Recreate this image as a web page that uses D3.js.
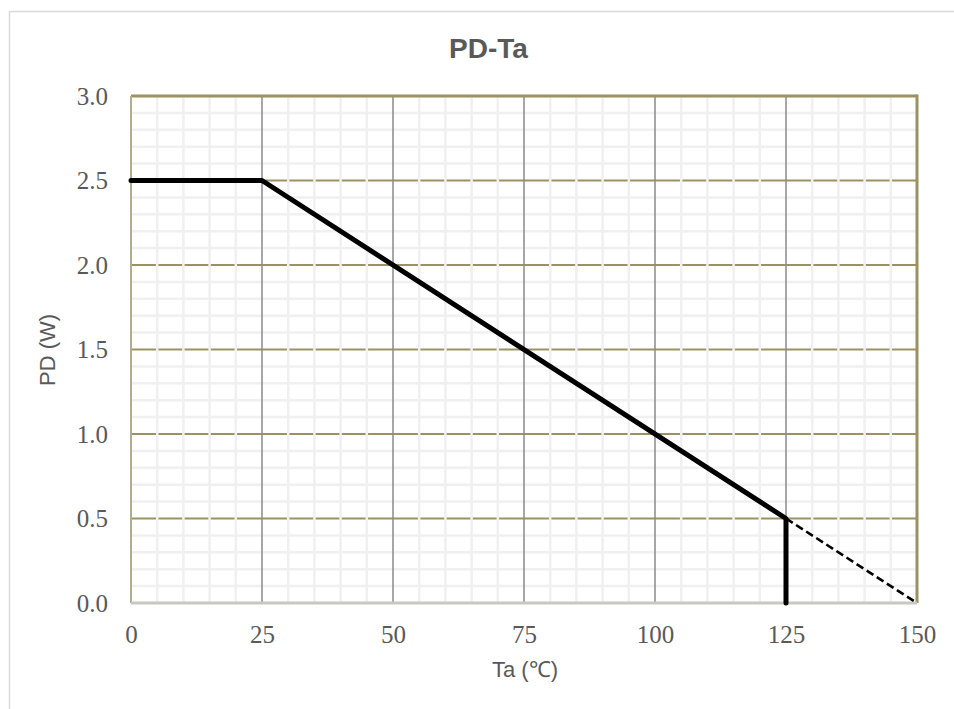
<!DOCTYPE html>
<html><head><meta charset="utf-8">
<script src="https://cdn.jsdelivr.net/npm/d3@7"></script>
<style>body{margin:0;background:#fff}svg{display:block}</style>
</head><body>
<svg id="c" width="954" height="709"></svg>
<script>
const title = "PD-Ta";
const xLabel = "Ta (℃)";
const yLabel = "PD (W)";
const xTicks = [0, 25, 50, 75, 100, 125, 150];
const yTicks = [0.0, 0.5, 1.0, 1.5, 2.0, 2.5, 3.0];
const curveTa = [0, 25, 125, 125];
const curvePD = [2.5, 2.5, 0.5, 0];
const dashTa = [125, 150];
const dashPD = [0.5, 0];

const svg = d3.select("#c");
const L = 131, R = 917, T = 96, B = 603;
const x = d3.scaleLinear().domain([0, 150]).range([L, R]);
const y = d3.scaleLinear().domain([0, 3]).range([B, T]);

// outer border
svg.append("rect").attr("x", 9.5).attr("y", 11.5).attr("width", 1000).attr("height", 1000)
  .attr("fill", "#fff").attr("stroke", "#d9d9d9").attr("stroke-width", 1.5);

const g = svg.append("g");
const xMinor = d3.range(0, 151, 5).filter(v => v % 25 !== 0);
const yMinor = d3.range(0, 31, 1).map(v => v / 10).filter(v => Math.round(v * 10) % 5 !== 0);

g.selectAll(".ymin").data(yMinor).join("line")
  .attr("x1", L).attr("x2", R).attr("y1", d => y(d)).attr("y2", d => y(d))
  .attr("stroke", "#f0f0f0").attr("stroke-width", 2.5);
g.selectAll(".ymaj").data(yTicks.slice(1, -1)).join("line")
  .attr("x1", L).attr("x2", R).attr("y1", d => y(d)).attr("y2", d => y(d))
  .attr("stroke", "#9b9162").attr("stroke-width", 2);
g.selectAll(".xmin").data(xMinor).join("line")
  .attr("y1", T).attr("y2", B).attr("x1", d => x(d)).attr("x2", d => x(d))
  .attr("stroke", "#f0f0f0").attr("stroke-width", 2.5);
g.selectAll(".xmaj").data(xTicks.slice(1, -1)).join("line")
  .attr("y1", T).attr("y2", B).attr("x1", d => x(d)).attr("x2", d => x(d))
  .attr("stroke", "#8a8a8a").attr("stroke-width", 1.5);

// plot frame
g.append("line").attr("x1", L).attr("x2", R).attr("y1", T).attr("y2", T).attr("stroke", "#9b9162").attr("stroke-width", 3);
g.append("line").attr("x1", R).attr("x2", R).attr("y1", T - 1.5).attr("y2", B).attr("stroke", "#9b9162").attr("stroke-width", 3);
g.append("line").attr("x1", L).attr("x2", L).attr("y1", T).attr("y2", B).attr("stroke", "#b3ad90").attr("stroke-width", 2);
g.append("line").attr("x1", L).attr("x2", R).attr("y1", B).attr("y2", B).attr("stroke", "#c8c8c0").attr("stroke-width", 3);

// axes labels via d3 axes
const xAxis = d3.axisBottom(x).tickValues(xTicks).tickSize(0).tickPadding(0).tickFormat(d3.format("d"));
const gx = svg.append("g").attr("transform", `translate(0,${643})`).call(xAxis);
gx.select(".domain").remove();
gx.selectAll("text").attr("font-family", "Liberation Serif, serif").attr("font-size", 25).attr("fill", "#595959").attr("dy", "0");

const yAxis = d3.axisLeft(y).tickValues(yTicks).tickSize(0).tickPadding(0).tickFormat(d3.format(".1f"));
const gy = svg.append("g").attr("transform", `translate(108,0)`).call(yAxis);
gy.select(".domain").remove();
gy.selectAll("text").attr("font-family", "Liberation Serif, serif").attr("font-size", 25).attr("fill", "#595959").attr("dy", "0.33em");

// data line
const line = d3.line().x(d => x(d[0])).y(d => y(d[1]));
svg.append("path").datum(dashTa.map((t, i) => [t, dashPD[i]]))
  .attr("d", line).attr("fill", "none").attr("stroke", "#000").attr("stroke-width", 2.6).attr("stroke-dasharray", "8,4");
svg.append("path").datum(curveTa.map((t, i) => [t, curvePD[i]]))
  .attr("d", line).attr("fill", "none").attr("stroke", "#000").attr("stroke-width", 5).attr("stroke-linejoin", "round").attr("stroke-linecap", "round");

// titles
svg.append("text").attr("x", 488.5).attr("y", 58).attr("text-anchor", "middle")
  .attr("font-family", "Liberation Sans, Arial, sans-serif").attr("font-weight", "bold").attr("font-size", 28).attr("fill", "#595959").text(title);
svg.append("text").attr("x", 525).attr("y", 677).attr("text-anchor", "middle")
  .attr("font-family", "Liberation Sans, Arial, sans-serif").attr("font-size", 22).attr("fill", "#595959").text(xLabel);
svg.append("text").attr("transform", "translate(55,350) rotate(-90)").attr("text-anchor", "middle")
  .attr("font-family", "Liberation Sans, Arial, sans-serif").attr("font-size", 22).attr("fill", "#595959").text(yLabel);
</script>
</body></html>
